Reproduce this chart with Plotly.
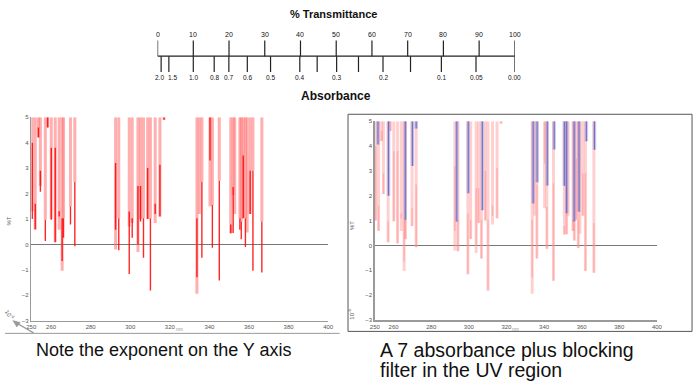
import plotly.graph_objects as go

# ---------------- data ----------------
# top scale
transmittance_ticks = [0, 10, 20, 30, 40, 50, 60, 70, 80, 90, 100]
absorbance_ticks = [2.0, 1.5, 1.0, 0.8, 0.7, 0.6, 0.5, 0.4, 0.35, 0.3, 0.25, 0.2, 0.15, 0.1, 0.05, 0.0]
absorbance_labels = ["2.0", "1.5", "1.0", "0.8", "0.7", "0.6", "0.5", "0.4", "", "0.3", "", "0.2", "", "0.1", "0.05", "0.00"]

# spectral lines (nm) with %T (x10^-6) levels
line_nm = [250.5, 252.0, 253.6, 254.6, 257.1, 258.3, 260.1, 262.1, 264.1, 265.6, 266.3, 269.8, 272.0,
           292.6, 294.2, 299.5, 301.0, 303.9, 305.2, 306.7, 308.8, 310.2, 312.6, 315.0, 317.1,
           333.7, 334.9, 336.2, 340.3, 341.5, 345.0, 350.8, 352.0, 352.8, 355.4, 356.1, 357.1,
           358.2, 359.1, 360.6, 362.0, 366.5]
pale_low = [1.3, 0.58, 4.2, 2.3, 0.97, 4.6, 1.0, 0.1, 0.58, -1.03, 1.03, 1.5, 2.45,
            -0.2, 1.03, 0.7, 0.85, -0.3, 1.0, 1.03, 1.0, 1.03, 0.84, 1.1, 4.9,
            -1.94, 1.2, 2.45, 1.5, 1.55, 2.5, 0.44, 1.94, 1.2, 1.03, 0.9, 1.03,
            1.03, 0.47, 1.2, 2.9, 0.9]
dark_high = [4.0, 1.6, 4.6, 2.9, 0.97, 5.0, 3.8, 3.8, 1.3, 1.03, 1.03, 1.5, 2.45,
             3.2, 1.03, 1.29, 1.03, 2.3, 2.3, 1.03, 3.0, 1.03, 1.6, 3.13, 5.0,
             1.03, 1.2, 2.45, 5.0, 1.55, 2.5, 0.78, 2.26, 1.2, 1.03, 0.9, 3.5,
             1.03, 0.47, 2.9, 2.9, 0.9]
dark_low = [1.0, 0.6, 4.2, 2.07, 0.13, 4.6, 0.97, 0.09, 1.1, -0.65, 0.26, 0.78, -0.07,
            0.58, -0.23, -1.16, 0.26, 0.0, 0.9, -0.52, 1.0, -1.81, 1.2, 1.1, 4.9,
            -1.29, 1.2, -0.52, 3.3, -0.13, -1.42, 0.44, 0.45, 1.2, 0.58, 0.2, 1.03,
            -0.1, 0.47, 1.2, -1.03, -1.1]

# blocking-filter (blue) lines on the right chart
blue_nm = [251.7, 257.3, 266.2, 270.0, 272.0, 293.6, 299.7, 307.2, 334.2, 336.3, 341.7, 345.4,
           350.8, 352.0, 356.0, 358.6, 362.5, 366.8]
blue_low = [4.06, 2.0, 1.03, 3.2, 4.7, 0.96, 2.1, 1.42, 1.69, 2.54, 2.41, 3.86,
            2.4, 1.3, 0.96, 1.36, 4.19, 3.85]

x_tickvals = [250, 260, 280, 300, 320, 340, 360, 380, 400]
y_tickvals = [-3, -2, -1, 0, 1, 2, 3, 4, 5]
y_top = 5

W, H = 700, 392
FONT = "Arial, Liberation Sans, sans-serif"


def px(x):
    return x / W


def py(y):
    return 1 - y / H


def segs(xs, tops, lows):
    X, Y = [], []
    for x, t, l in zip(xs, tops, lows):
        if t is None or l is None or t <= l:
            continue
        X += [x, x, None]
        Y += [t, l, None]
    return X, Y


fig = go.Figure()

# ---------- left chart ----------
X, Y = segs(line_nm, [y_top] * len(line_nm), pale_low)
fig.add_trace(go.Scatter(x=X, y=Y, mode="lines", line=dict(color="rgba(255,110,110,0.55)", width=3),
                         xaxis="x", yaxis="y", hoverinfo="skip"))
X, Y = segs(line_nm, dark_high, dark_low)
fig.add_trace(go.Scatter(x=X, y=Y, mode="lines", line=dict(color="rgba(255,0,0,0.85)", width=1.4),
                         xaxis="x", yaxis="y", hoverinfo="skip"))

# ---------- right chart ----------
X, Y = segs(line_nm, [y_top] * len(line_nm), [min(a, b) for a, b in zip(pale_low, dark_low)])
fig.add_trace(go.Scatter(x=X, y=Y, mode="lines", line=dict(color="rgba(255,150,150,0.45)", width=3),
                         xaxis="x2", yaxis="y2", hoverinfo="skip"))
X, Y = segs(line_nm, dark_high, dark_low)
fig.add_trace(go.Scatter(x=X, y=Y, mode="lines", line=dict(color="rgba(255,130,130,0.45)", width=1.4),
                         xaxis="x2", yaxis="y2", hoverinfo="skip"))
X, Y = segs(blue_nm, [y_top] * len(blue_nm), blue_low)
fig.add_trace(go.Scatter(x=X, y=Y, mode="lines", line=dict(color="rgba(150,150,215,0.5)", width=3.5),
                         xaxis="x2", yaxis="y2", hoverinfo="skip"))
fig.add_trace(go.Scatter(x=X, y=Y, mode="lines", line=dict(color="rgba(70,80,190,0.7)", width=1),
                         xaxis="x2", yaxis="y2", hoverinfo="skip"))

# ---------- top scale (y3 in pixel rows) ----------
LINE_Y, T_TOP, A_BOT = 54, 38, 70
fig.add_trace(go.Scatter(x=[0, 100], y=[LINE_Y, LINE_Y], mode="lines",
                         line=dict(color="#222", width=1.2), xaxis="x3", yaxis="y3", hoverinfo="skip"))
TX, TY = [], []
for t in transmittance_ticks:
    TX += [t, t, None]
    TY += [T_TOP, LINE_Y, None]
fig.add_trace(go.Scatter(x=TX, y=TY, mode="lines", line=dict(color="#222", width=1.2),
                         xaxis="x3", yaxis="y3", hoverinfo="skip"))
a_pos = [100 * 10 ** (-a) for a in absorbance_ticks]
AX, AY = [], []
for a in a_pos:
    AX += [a, a, None]
    AY += [LINE_Y, A_BOT, None]
fig.add_trace(go.Scatter(x=AX, y=AY, mode="lines", line=dict(color="#222", width=1.2),
                         xaxis="x3", yaxis="y3", hoverinfo="skip"))

axis_common = dict(showgrid=False, ticks="", showline=True, linecolor="#9a9a9a", linewidth=1.5,
                   tickfont=dict(family=FONT, size=6, color="#555"), fixedrange=True)

fig.update_layout(
    width=W, height=H, margin=dict(l=0, r=0, t=0, b=0),
    paper_bgcolor="white", plot_bgcolor="rgba(0,0,0,0)", showlegend=False,
    xaxis=dict(domain=[px(26.7), px(328.3)], range=[250, 400], tickvals=x_tickvals, anchor="y",
               zeroline=False, **axis_common),
    yaxis=dict(domain=[py(322.7), py(116)], range=[-3, 5], tickvals=y_tickvals, anchor="x",
               zeroline=True, zerolinecolor="#777", zerolinewidth=1.2, **axis_common),
    xaxis2=dict(domain=[px(375.7), px(662.3)], range=[250, 400], tickvals=x_tickvals, anchor="y2",
                zeroline=False, **axis_common),
    yaxis2=dict(domain=[py(322), py(120)], range=[-3, 5], tickvals=y_tickvals, anchor="x2",
                zeroline=True, zerolinecolor="#777", zerolinewidth=1.2, **axis_common),
    xaxis3=dict(domain=[px(155), px(518)], range=[0, 100], anchor="y3", visible=False, fixedrange=True),
    yaxis3=dict(domain=[py(100), py(0)], range=[100, 0], anchor="x3", visible=False, fixedrange=True),
)

shapes = [
    dict(type="rect", xref="paper", yref="paper", x0=px(348.5), x1=px(698), y0=py(333.5), y1=py(113),
         line=dict(color="#555", width=1)),
    dict(type="line", xref="paper", yref="paper", x0=px(0), x1=px(340), y0=py(335.5), y1=py(335.5),
         line=dict(color="#999", width=1)),
    # small arrow pointing at the exponent
    dict(type="line", xref="paper", yref="paper", x0=px(10), x1=px(29), y0=py(324), y1=py(335),
         line=dict(color="#999", width=1.2)),
    dict(type="path", xref="paper", yref="paper",
         path="M %f,%f L %f,%f L %f,%f Z" % (px(8), py(322.5), px(15.5), py(324.5), px(12), py(329)),
         fillcolor="#999", line=dict(color="#999", width=0.5)),
]
fig.update_layout(shapes=shapes)

ann = []


def text(x, y, s, size, bold=False, color="#111", xanchor="center", angle=0):
    ann.append(dict(x=px(x), y=py(y), xref="paper", yref="paper", text=("<b>%s</b>" % s) if bold else s,
                    showarrow=False, xanchor=xanchor, yanchor="middle", textangle=angle,
                    borderpad=0, font=dict(family=FONT, size=size, color=color)))


# scale labels
for t in transmittance_ticks:
    ann.append(dict(x=t, y=32, xref="x3", yref="y3", text=str(t), showarrow=False,
                    xanchor="center", yanchor="middle", font=dict(family=FONT, size=7, color="#111")))
label_shift = {"2.0": -1.5, "1.5": 3.5}
for a, lab in zip(a_pos, absorbance_labels):
    if not lab:
        continue
    ann.append(dict(x=a, y=76, xref="x3", yref="y3", text=lab, showarrow=False,
                    xshift=label_shift.get(lab, 0),
                    xanchor="center", yanchor="middle", font=dict(family=FONT, size=6.5, color="#111")))

text(334, 11, "% Transmittance", 11, bold=True)
text(336, 94, "Absorbance", 12, bold=True)
text(30, 352, "Note the exponent on the Y axis", 18, xanchor="left")
text(380, 352, "A 7 absorbance plus blocking", 19.5, xanchor="left")
text(380, 373, "filter in the UV region", 19.5, xanchor="left")
text(4, 221, "%T", 6, color="#555", angle=-90)
text(352, 226, "%T", 6, color="#555", angle=-90)
text(5, 317, "10<sup>-6</sup>", 6, color="#555", angle=55)
text(352, 316, "10<sup>-6</sup>", 6, color="#555", angle=-90)
text(177, 331, "nm", 5, color="#999")
text(519, 331, "nm", 5, color="#999")
fig.update_layout(annotations=ann)

fig.write_html("out.html", config={"displayModeBar": False, "staticPlot": True},
               post_script="document.body.style.margin='0';document.body.style.overflow='hidden';")
